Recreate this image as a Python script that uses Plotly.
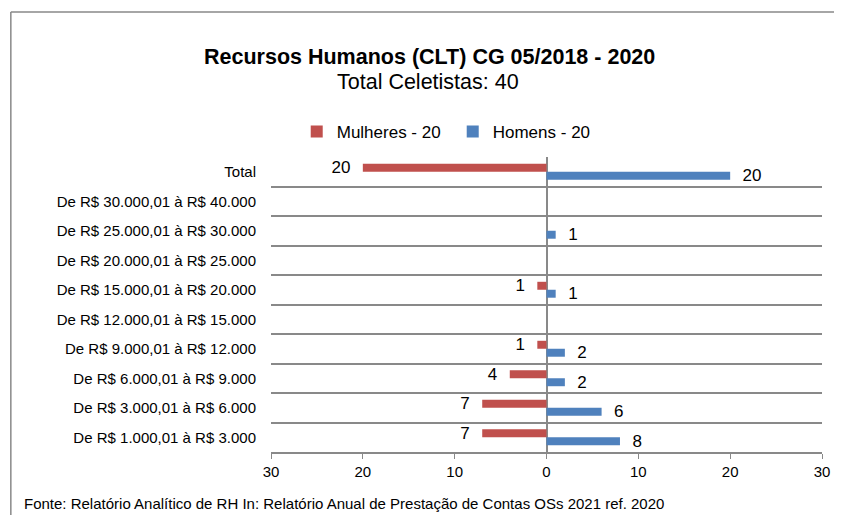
import plotly.graph_objects as go

categories = [
    "De R$ 1.000,01 à R$ 3.000",
    "De R$ 3.000,01 à R$ 6.000",
    "De R$ 6.000,01 à R$ 9.000",
    "De R$ 9.000,01 à R$ 12.000",
    "De R$ 12.000,01 à R$ 15.000",
    "De R$ 15.000,01 à R$ 20.000",
    "De R$ 20.000,01 à R$ 25.000",
    "De R$ 25.000,01 à R$ 30.000",
    "De R$ 30.000,01 à R$ 40.000",
    "Total",
]
mulheres = [7, 7, 4, 1, 0, 1, 0, 0, 0, 20]
homens = [8, 6, 2, 2, 0, 1, 0, 1, 0, 20]
tick_vals = [-30, -20, -10, 0, 10, 20, 30]
tick_text = ["30", "20", "10", "0", "10", "20", "30"]

FONT = "Arial, Liberation Sans, sans-serif"
RED = "#C0504D"
BLUE = "#4F81BD"
GRID = "#898989"

OFF = 8  # page body margin
W, H = 842 - OFF, 515 - OFF
# plot area in page pixels: x 271..828, y 157..452
L = 271 - OFF
T = 157 - OFF
R = W - (828 - OFF)
B = H - (452 - OFF)
PW, PH = W - L - R, H - T - B


def px_x(x):
    return (x - OFF - L) / PW


def px_y(y):
    return (H - B - (y - OFF)) / PH


nb = "\u00a0"
fig = go.Figure()
fig.add_trace(go.Bar(
    y=categories, x=homens, orientation="h", name="Homens - 20",
    marker=dict(color=BLUE, line=dict(width=0)),
    text=[(nb * 2 + str(v)) if v else "" for v in homens],
    textposition="outside", constraintext="none", cliponaxis=False,
    textfont=dict(size=17, color="#000000", family=FONT),
    legendrank=2,
))
fig.add_trace(go.Bar(
    y=categories, x=[-v for v in mulheres], orientation="h", name="Mulheres - 20",
    marker=dict(color=RED, line=dict(width=0)),
    text=[(str(v) + nb * 2) if v else "" for v in mulheres],
    textposition="outside", constraintext="none", cliponaxis=False,
    textfont=dict(size=17, color="#000000", family=FONT),
    legendrank=1,
))

fig.update_layout(
    width=W, height=H,
    margin=dict(l=L, r=R, t=T, b=B),
    paper_bgcolor="white", plot_bgcolor="white",
    font=dict(family=FONT, color="#000000"),
    barmode="group", bargap=0.46, bargroupgap=0,
    showlegend=True,
    legend=dict(
        orientation="h", x=px_x(297), xanchor="left", y=px_y(132), yanchor="middle",
        font=dict(size=17, family=FONT), itemwidth=30,
        entrywidth=111, entrywidthmode="pixels",
        bgcolor="rgba(0,0,0,0)",
    ),
    xaxis=dict(
        range=[-30, 30], tickvals=tick_vals, ticktext=tick_text,
        showgrid=False, zeroline=True, zerolinecolor=GRID, zerolinewidth=1.5,
        showline=True, linecolor=GRID, linewidth=1.5,
        ticks="outside", ticklen=5, tickcolor=GRID, tickwidth=1,
        tickfont=dict(size=15, family=FONT), fixedrange=True,
    ),
    yaxis=dict(
        type="category", tickson="boundaries", showgrid=True,
        gridcolor=GRID, gridwidth=1.5, ticks="", showline=False,
        tickfont=dict(size=15, family=FONT), ticklabelstandoff=14,
        range=[-0.5, 9.5],
    ),
    annotations=[
        dict(text="<b>Recursos Humanos (CLT) CG 05/2018 - 2020</b>", xref="paper", yref="paper",
             x=px_x(431), y=px_y(57), xanchor="center", yanchor="middle", showarrow=False,
             font=dict(size=21.5, family=FONT)),
        dict(text="Total Celetistas: 40", xref="paper", yref="paper",
             x=px_x(430), y=px_y(82), xanchor="center", yanchor="middle", showarrow=False,
             font=dict(size=21.5, family=FONT)),
        dict(text="Fonte: Relatório Analítico de RH In: Relatório Anual de Prestação de Contas OSs 2021 ref. 2020",
             xref="paper", yref="paper", x=px_x(19), y=px_y(504), xanchor="left", yanchor="middle",
             showarrow=False, font=dict(size=15, family=FONT)),
    ],
    shapes=[
        dict(type="line", xref="paper", yref="paper", x0=px_x(8), x1=px_x(8), y0=px_y(12), y1=px_y(520),
             line=dict(color=GRID, width=1.5)),
        dict(type="line", xref="paper", yref="paper", x0=px_x(8), x1=px_x(850), y0=px_y(12), y1=px_y(12),
             line=dict(color=GRID, width=1.5)),
    ],
)

fig.write_html("out.html")
